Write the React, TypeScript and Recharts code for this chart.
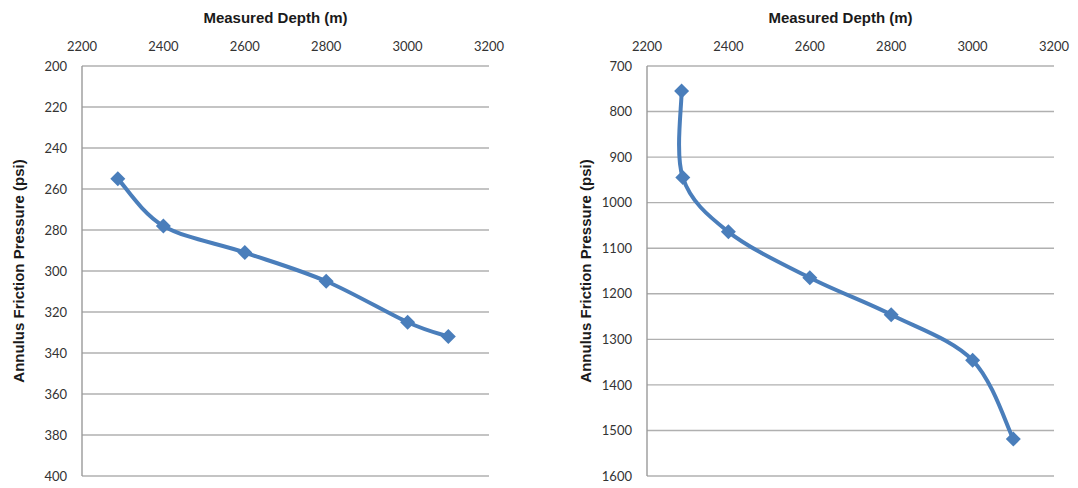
import React from 'react';
import { LineChart, Line, XAxis, YAxis, CartesianGrid, Label } from 'recharts';

// ---- data ----
const leftDepth = [2288, 2400, 2600, 2800, 3000, 3100];
const leftPressure = [255, 278, 291, 305, 325, 332];
const rightDepth = [2285, 2288, 2400, 2600, 2800, 3000, 3100];
const rightPressure = [755, 945, 1064, 1165, 1246, 1346, 1519];
const depthTicks = [2200, 2400, 2600, 2800, 3000, 3200];
const leftPressureTicks = [200, 220, 240, 260, 280, 300, 320, 340, 360, 380, 400];
const rightPressureTicks = [700, 800, 900, 1000, 1100, 1200, 1300, 1400, 1500, 1600];
const xTitle = 'Measured Depth (m)';
const yTitle = 'Annulus Friction Pressure (psi)';

const leftData = leftDepth.map((d, i) => ({ depth: d, pressure: leftPressure[i] }));
const rightData = rightDepth.map((d, i) => ({ depth: d, pressure: rightPressure[i] }));

const BLUE = '#4a7ebb';
const GRID = '#b0b0b0';
const AXIS = '#9a9a9a';
const TICK_FONT = 'Lato, "Open Sans", sans-serif';
const TITLE_FONT = '"Liberation Sans", Arial, sans-serif';

// Excel-like smoothing (Catmull-Rom through points, as cubic Bezier)
function excelCurve(context: any) {
  let pts: number[][] = [];
  return {
    areaStart() {},
    areaEnd() {},
    lineStart() {
      pts = [];
    },
    lineEnd() {
      const n = pts.length;
      if (!n) return;
      context.moveTo(pts[0][0], pts[0][1]);
      for (let i = 0; i < n - 1; i++) {
        const p0 = pts[Math.max(i - 1, 0)];
        const p1 = pts[i];
        const p2 = pts[i + 1];
        const p3 = pts[Math.min(i + 2, n - 1)];
        const c1x = p1[0] + (p2[0] - p0[0]) / 6;
        const c1y = p1[1] + (p2[1] - p0[1]) / 6;
        const c2x = p2[0] - (p3[0] - p1[0]) / 6;
        const c2y = p2[1] - (p3[1] - p1[1]) / 6;
        context.bezierCurveTo(c1x, c1y, c2x, c2y, p2[0], p2[1]);
      }
    },
    point(x: number, y: number) {
      pts.push([+x, +y]);
    },
  };
}

const Diamond = (props: any) => {
  const { cx, cy, index } = props;
  if (cx == null || cy == null) return <g key={`d-${index}`} />;
  const r = 7.5;
  return (
    <path
      key={`d-${index}`}
      d={`M${cx},${cy - r}L${cx + r},${cy}L${cx},${cy + r}L${cx - r},${cy}Z`}
      fill={BLUE}
      stroke="none"
    />
  );
};

const XTitle = (dx: number) => (props: any) => {
  const vb = props.viewBox || { x: 0, y: 0, width: 0, height: 0 };
  return (
    <text
      x={vb.x + vb.width / 2 + dx}
      y={23}
      textAnchor="middle"
      fontFamily={TITLE_FONT}
      fontWeight="bold"
      fontSize={15}
      fill="#1a1a1a"
    >
      {xTitle}
    </text>
  );
};

const YTitle = (cxPos: number) => (props: any) => {
  const vb = props.viewBox || { x: 0, y: 0, width: 0, height: 0 };
  const cx = vb.x + cxPos;
  const cy = vb.y + vb.height / 2;
  return (
    <text
      x={cx}
      y={cy}
      transform={`rotate(-90 ${cx} ${cy})`}
      textAnchor="middle"
      dominantBaseline="central"
      fontFamily={TITLE_FONT}
      fontWeight="bold"
      fontSize={15}
      fill="#1a1a1a"
    >
      {yTitle}
    </text>
  );
};

const tickStyle = { fontFamily: TICK_FONT, fontSize: 13, fill: '#333333' };

function Panel(props: {
  data: any[];
  width: number;
  yWidth: number;
  rightMargin: number;
  yDomain: number[];
  yTicks: number[];
  yTitleX: number;
}) {
  const { data, width, yWidth, rightMargin, yDomain, yTicks, yTitleX } = props;
  return (
    <LineChart
      width={width}
      height={488}
      data={data}
      margin={{ top: 0, right: rightMargin, bottom: 12, left: 0 }}
    >
      <CartesianGrid horizontal={true} vertical={false} stroke={GRID} strokeWidth={1.4} />
      <XAxis
        xAxisId={0}
        dataKey="depth"
        type="number"
        orientation="top"
        domain={[2200, 3200]}
        ticks={depthTicks}
        allowDataOverflow
        height={66}
        axisLine={false}
        tickLine={false}
        tickSize={6}
        tickMargin={9}
        tick={tickStyle}
        interval={0}
      >
        <Label content={XTitle(-10)} />
      </XAxis>
      <YAxis
        yAxisId={0}
        type="number"
        domain={yDomain}
        ticks={yTicks}
        reversed
        allowDataOverflow
        width={yWidth}
        axisLine={{ stroke: AXIS, strokeWidth: 1.4 }}
        tickLine={false}
        tickSize={6}
        tickMargin={9}
        tick={tickStyle}
        interval={0}
      >
        <Label content={YTitle(yTitleX)} />
      </YAxis>
      <Line
        dataKey="pressure"
        type={excelCurve as any}
        stroke={BLUE}
        strokeWidth={4}
        dot={Diamond}
        activeDot={false}
        isAnimationActive={false}
      />
    </LineChart>
  );
}

export default function App() {
  return (
    <div
      style={{
        position: 'absolute',
        left: 0,
        top: 0,
        width: 1078,
        height: 488,
        background: '#ffffff',
      }}
    >
      <div style={{ position: 'absolute', left: 0, top: 0 }}>
        <Panel
          data={leftData}
          width={540}
          yWidth={82}
          rightMargin={51}
          yDomain={[200, 400]}
          yTicks={leftPressureTicks}
          yTitleX={18}
        />
      </div>
      <div style={{ position: 'absolute', left: 540, top: 0 }}>
        <Panel
          data={rightData}
          width={538}
          yWidth={107}
          rightMargin={24}
          yDomain={[700, 1600]}
          yTicks={rightPressureTicks}
          yTitleX={45}
        />
      </div>
    </div>
  );
}
